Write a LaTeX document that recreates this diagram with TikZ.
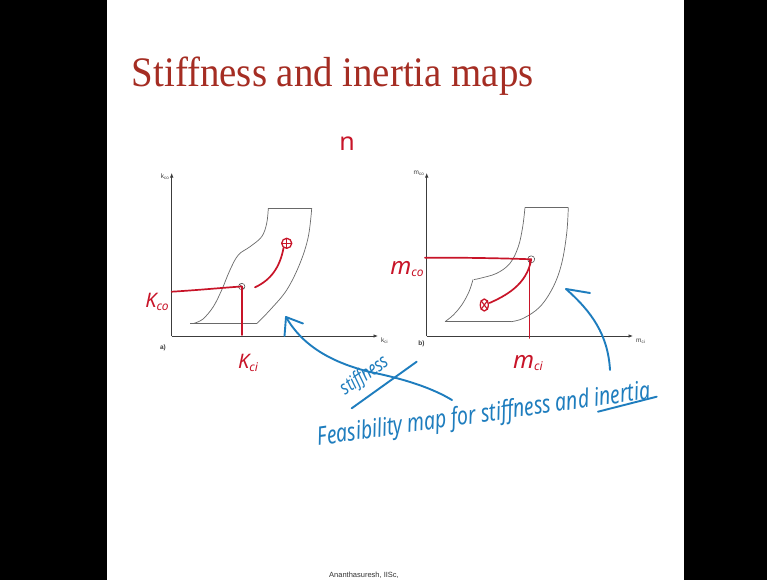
\documentclass[tikz,border=0pt]{standalone}
\usepackage{fontspec}
\setmainfont{Liberation Serif}
\newfontfamily\handf{Noto Sans}
\newfontfamily\arialf{Liberation Sans}
\usetikzlibrary{arrows.meta,calc}
\definecolor{titlered}{RGB}{165,45,35}
\definecolor{inkred}{RGB}{200,20,40}
\definecolor{inkblue}{RGB}{30,125,190}
\definecolor{axisgray}{RGB}{60,60,60}
\definecolor{regiongray}{RGB}{105,105,105}
\newcommand\axsub[2]{#1\raisebox{-0.35ex}{\fontsize{4.5}{4.5}\selectfont #2}}
\newcommand\redsub[3]{{\fontsize{#3}{#3}\selectfont #1}\raisebox{-0.45ex}{\fontsize{12}{12}\selectfont #2}}
\begin{document}
\begin{tikzpicture}[x=1pt,y=-1pt,
  axis/.style={draw=axisgray, line width=0.7pt, -{Latex[length=4.5pt,width=3.5pt]}},
  region/.style={draw=regiongray, line width=0.7pt},
  redink/.style={draw=inkred, line width=1.7pt, line cap=round, line join=round},
  blueink/.style={draw=inkblue, line width=1.9pt, line cap=round, line join=round},
  axlab/.style={text=axisgray, font=\arialf\fontsize{6.5}{6.5}\selectfont, inner sep=0pt},
  redlab/.style={text=inkred, font=\handf\itshape, inner sep=0pt},
  bluelab/.style={text=inkblue, font=\handf\itshape, inner sep=0pt},
  ptmark/.style={draw=axisgray, line width=0.5pt},
  ]
% background
\fill[black] (0,0) rectangle (767,580);
\fill[white] (107,0) rectangle (684,580);
\useasboundingbox (0,0) rectangle (767,580);

% title
\node[anchor=base west, inner sep=0pt, text=titlered] (title) at (131.7,86.7)
  {\scalebox{0.925}[1]{\fontsize{42}{42}\selectfont Stiffness and inertia maps}};
\node[redlab, font=\handf\fontsize{25}{25}\selectfont] (eta) at (347,144) {n};

% ---------- plot a ----------
\coordinate (Oa) at (171.7,336);
\coordinate (Ya) at (171.7,173);
\coordinate (Xa) at (378,336);
\draw[axis] (Oa) -- (Ya);
\draw[axis] (Oa) -- (Xa);
\node[axlab, anchor=east] (kco) at (169,177) {\axsub{k}{co}};
\node[axlab, anchor=west] (kci) at (381,341) {\axsub{k}{ci}};
\node[axlab, font=\arialf\bfseries\fontsize{6.5}{6.5}\selectfont] (la) at (163,348) {a)};

\draw[region] (190,323.3) -- (257,323.3);
\draw[region] plot[smooth, tension=0.6] coordinates {(257,323.3) (270,310) (286.7,290) (300,263.3) (308.3,236.7) (311.7,208.3)};
\draw[region] (311.7,208.3) -- (268.3,208.3);
\draw[region] plot[smooth, tension=0.6] coordinates {(268.3,208.3) (266.7,223.3) (261.7,236.7) (250,246.7) (238.3,255) (230,270) (221.7,290) (213.3,306.7) (203,319) (194,323.3)};

% points a
\coordinate (Pa) at (241.7,286.5);
\coordinate (Qa) at (286.7,243.3);
\draw[ptmark] (Pa) circle (3.2);
\draw[ptmark] ($(Pa)+(-2.2,-2.2)$) -- ($(Pa)+(2.2,2.2)$);
\draw[redink] (171.7,291.7) .. controls (200,290) and (225,287.5) .. (Pa);
\draw[redink] (Pa) -- (241.7,335);
\draw[redink] (255,287.3) .. controls (271,280) and (280,267) .. (283.5,248);
\draw[redink, line width=1.3pt] (Qa) circle (5);
\draw[redink, line width=1.1pt] (281.7,243.3) -- (291.7,243.3) (286.7,238.3) -- (286.7,248.3);

\node[redlab] (Kco) at (157,302) {\redsub{K}{co}{20}};
\node[redlab] (Kci) at (248,363) {\redsub{K}{ci}{20}};

% ---------- plot b ----------
\coordinate (Ob) at (426.7,336);
\coordinate (Yb) at (426.7,173);
\coordinate (Xb) at (633,336);
\draw[axis] (Ob) -- (Yb);
\draw[axis] (Ob) -- (Xb);
\node[axlab, anchor=east] (mco) at (424,173) {\axsub{m}{co}};
\node[axlab, anchor=west] (mci) at (636,341) {\axsub{m}{ci}};
\node[axlab, font=\arialf\bfseries\fontsize{6.5}{6.5}\selectfont] (lb) at (421.5,344) {b)};

\draw[region] (445,321.7) -- (511,321.7);
\draw[region] plot[smooth, tension=0.6] coordinates {(511,321.7) (523.3,318.3) (540,306.7) (553.3,286.7) (561.7,263.3) (566.7,233.3) (568.3,207.3)};
\draw[region] (568.3,207.3) -- (525,207.3);
\draw[region] plot[smooth, tension=0.6] coordinates {(525,207.3) (522.7,226.7) (518.3,246.7) (510,263.3) (496.7,273.3) (480,278.3) (474,279.5)};
\draw[region] plot[smooth, tension=0.6] coordinates {(473,279.5) (471.7,284) (468.3,293.3) (461.7,305) (453.3,315) (445,321.7)};

\coordinate (Pb) at (531.2,259.3);
\coordinate (Qb) at (484.3,305);
\draw[ptmark] (Pb) circle (3.5);
\draw[redink] (425,257.7) .. controls (470,257.5) and (510,258.5) .. (Pb);
\draw[redink] (529.5,260) -- (529.5,338);
\draw[redink] (Pb) .. controls (527,285) and (505,296) .. (489.5,303);
\draw[redink, line width=1.3pt] (Qb) ellipse (4 and 6);
\draw[redink, line width=1.1pt] (481,300.5) -- (487.6,309.5) (487.6,300.5) -- (481,309.5);

\node[redlab] (Mco) at (407,269) {\redsub{m}{co}{24}};
\node[redlab] (Mci) at (528,363) {\redsub{m}{ci}{24}};

% ---------- blue annotations ----------
\coordinate (T1) at (286,317);
\draw[blueink] (452,400) .. controls (432,388) and (405,379) .. (370,372)
               .. controls (330,362) and (302,345) .. (T1);
\draw[blueink] (T1) -- (303,323.5);
\draw[blueink] (T1) -- (284.5,336);

\coordinate (T2) at (566,289);
\draw[blueink] (610,370) .. controls (608,335) and (592,312) .. (T2);
\draw[blueink] (T2) -- (590,293);

\node[bluelab, rotate=35] (stw) at (365,376)
  {\scalebox{1}[1.3]{\fontsize{15}{15}\selectfont stiffness}};
\draw[blueink] (351.7,408.3) -- (416.7,361.7);

\node[bluelab, anchor=base, rotate=8] (feas) at (485,422)
  {\scalebox{1}[1.3]{\fontsize{19.5}{19.5}\selectfont Feasibility map for stiffness and inertia}};
\draw[blueink] (598,411.7) -- (656.7,396.7);

% footer
\node[inner sep=0pt, text=black!80, font=\arialf\fontsize{7.5}{7.5}\selectfont] (foot) at (364,575) {Ananthasuresh, IISc,};
\end{tikzpicture}
\end{document}
